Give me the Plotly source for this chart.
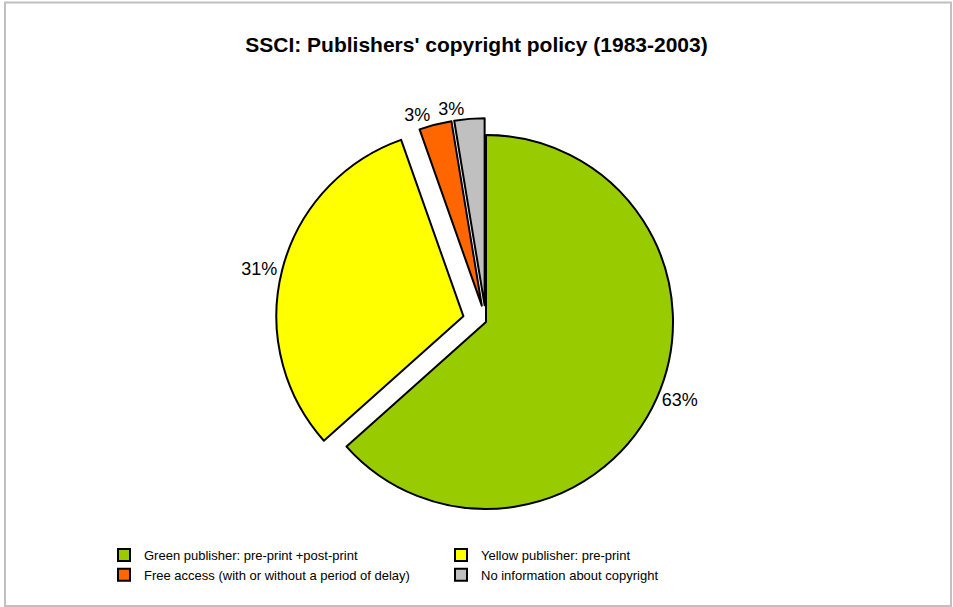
import plotly.graph_objects as go

categories = [
    "Green publisher: pre-print +post-print",
    "Yellow publisher: pre-print",
    "Free access (with or without a period of delay)",
    "No information about copyright",
]
values = [63.4, 31.2, 2.8, 2.6]
colors = ["#99CC00", "#FFFF00", "#FF6600", "#C0C0C0"]
pulls = [0, 0.125, 0.09, 0.09]
title_text = "SSCI: Publishers' copyright policy (1983-2003)"

W, H = 953, 607
FONT = "Liberation Sans, Arial, sans-serif"

# pie placement (pixels)
cx, cy, r = 486, 322, 187
half = r * (1 + max(pulls))
domain = dict(
    x=[(cx - half) / W, (cx + half) / W],
    y=[(H - cy - half) / H, (H - cy + half) / H],
)
label_font = dict(size=18, color="black", family=FONT)
pct = "%{percent:.0%}"

fig = go.Figure()
# main pie: all slices, labels for the first three slices
fig.add_trace(
    go.Pie(
        labels=categories,
        values=values,
        sort=False,
        direction="clockwise",
        rotation=0,
        pull=pulls,
        marker=dict(colors=colors, line=dict(color="black", width=2)),
        textposition="outside",
        texttemplate=[pct, pct, pct, ""],
        outsidetextfont=label_font,
        hoverinfo="label+percent",
        domain=domain,
        showlegend=True,
    )
)
# overlay of the same pie (transparent) only to carry the last slice's label
fig.add_trace(
    go.Pie(
        labels=categories,
        values=values,
        sort=False,
        direction="clockwise",
        rotation=0,
        pull=pulls,
        marker=dict(colors=["rgba(0,0,0,0)"] * 4, line=dict(width=0)),
        textposition="outside",
        texttemplate=["", "", "", pct],
        outsidetextfont=label_font,
        hoverinfo="skip",
        domain=domain,
        showlegend=False,
    )
)

fig.update_layout(
    width=W,
    height=H,
    margin=dict(l=0, r=0, t=0, b=0),
    paper_bgcolor="white",
    plot_bgcolor="white",
    font=dict(family=FONT, color="black"),
    title=dict(
        text=title_text,
        font=dict(size=21, family=FONT, color="black", weight="bold"),
        x=0.5,
        xanchor="center",
        y=1 - 45 / H,
        yanchor="middle",
    ),
    showlegend=True,
    legend=dict(
        orientation="h",
        x=104 / W,
        xanchor="left",
        y=1 - 540 / H,
        yanchor="top",
        entrywidthmode="pixels",
        entrywidth=292,
        font=dict(size=13, family=FONT, color="black"),
        bgcolor="rgba(0,0,0,0)",
        traceorder="normal",
    ),
    shapes=[
        dict(
            type="rect",
            xref="paper",
            yref="paper",
            x0=5 / W,
            x1=951 / W,
            y0=1 - 606 / H,
            y1=1 - 2.5 / H,
            line=dict(color="#C0C0C0", width=2),
            fillcolor="rgba(0,0,0,0)",
            layer="below",
        )
    ],
)

fig.write_html(
    "out.html",
    config={"displayModeBar": False},
    post_script="document.body.style.margin='0px';document.body.style.overflow='hidden';",
)
